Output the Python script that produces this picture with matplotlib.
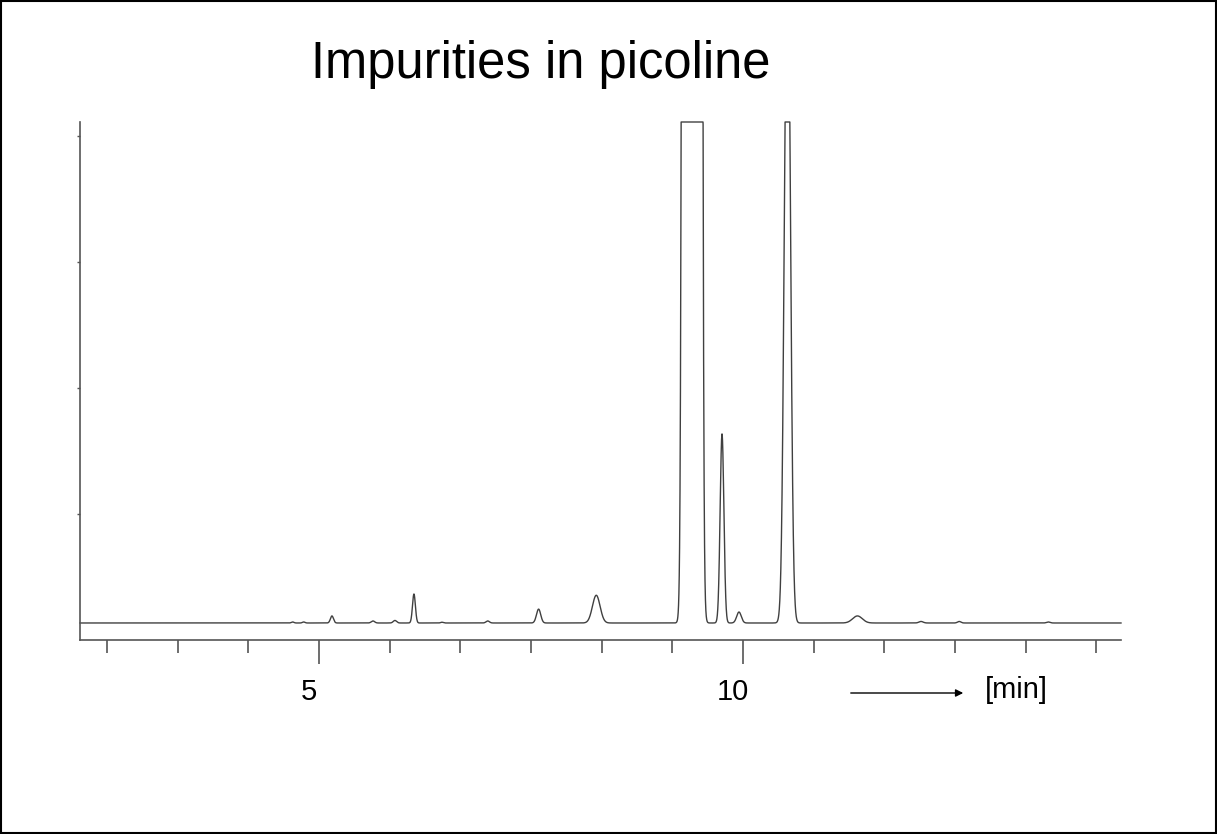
import numpy as np
import matplotlib
matplotlib.use("Agg")
import matplotlib.pyplot as plt
from matplotlib.patches import Rectangle

plt.rcParams['font.family'] = ['Liberation Sans', 'DejaVu Sans']

# peak table: retention time [min], height, sigma [min]
peak_times = [4.69, 4.82, 5.153, 5.637, 5.896, 6.12, 6.45, 6.99, 7.59, 8.27,
              9.40, 9.753, 9.953, 10.524, 11.35, 12.10, 12.55, 13.60]
peak_heights = [0.8, 0.8, 5.6, 1.6, 2.0, 23, 0.6, 1.6, 11, 22,
                263000, 150, 8.7, 574, 5.6, 1.2, 1.2, 0.8]
peak_sigmas = [0.015, 0.015, 0.018, 0.02, 0.02, 0.017, 0.015, 0.02, 0.025, 0.045,
               0.036, 0.022, 0.027, 0.034, 0.057, 0.025, 0.02, 0.02]
baseline = 13.5

x_range = (2.182, 14.458)
y_top = 411

major_ticks = [5, 10]
major_labels = ['5', '10']
minor_ticks = [2.5, 3.333, 4.167, 5.833, 6.667, 7.5, 8.333, 9.167,
               10.833, 11.667, 12.5, 13.333, 14.167]
y_ticks = [100, 200, 300, 400]

# build the trace from the peak table
t = np.linspace(x_range[0], x_range[1], 12000)
signal = np.full_like(t, baseline)
for t0, h, s in zip(peak_times, peak_heights, peak_sigmas):
    signal += h * np.exp(-0.5 * ((t - t0) / s) ** 2)
signal = np.minimum(signal, y_top)

fig = plt.figure(figsize=(12.17, 8.34), dpi=100)
ax = fig.add_axes([80 / 1217, 1 - 640 / 834, (1121 - 80) / 1217, (640 - 122) / 834])

ax.plot(t, signal, color='#404040', lw=1.0, clip_on=False)
ax.set_xlim(*x_range)
ax.set_ylim(0, y_top)

axis_col = '#555555'
for side in ['top', 'right']:
    ax.spines[side].set_visible(False)
for side in ['left', 'bottom']:
    ax.spines[side].set_color(axis_col)
    ax.spines[side].set_linewidth(1.2)

ax.set_xticks(major_ticks)
ax.set_xticks(minor_ticks, minor=True)
ax.set_xticklabels([])
ax.set_yticks(y_ticks)
ax.set_yticklabels([])
ax.tick_params(axis='x', which='major', length=17, width=1.2, color=axis_col)
ax.tick_params(axis='x', which='minor', length=9.5, width=1.2, color=axis_col)
ax.tick_params(axis='y', length=2.5, width=1, color=axis_col)

for pos, lab in zip(major_ticks, major_labels):
    ax.annotate(lab, xy=(pos, 0), xycoords=('data', 'axes fraction'),
                xytext=(-10, -52), textcoords='offset pixels',
                ha='center', va='center', fontsize=21)

# time arrow and unit
ax.annotate('', xy=(966 / 1217, 1 - 693 / 834), xytext=(848 / 1217, 1 - 693 / 834),
            xycoords='figure fraction',
            arrowprops=dict(arrowstyle='-|>', color='black', lw=1, mutation_scale=11))
fig.text(1016 / 1217, 1 - 690 / 834, '[min]', ha='center', va='center', fontsize=21)

fig.text(541 / 1217, 1 - 78 / 834, 'Impurities in picoline',
         ha='center', va='baseline', fontsize=36.5)

fig.patches.append(Rectangle((0.0006, 0.0008), 0.9988, 0.9984, transform=fig.transFigure,
                             fill=False, ec='black', lw=1.5))

fig.savefig('out.png', dpi=100)
